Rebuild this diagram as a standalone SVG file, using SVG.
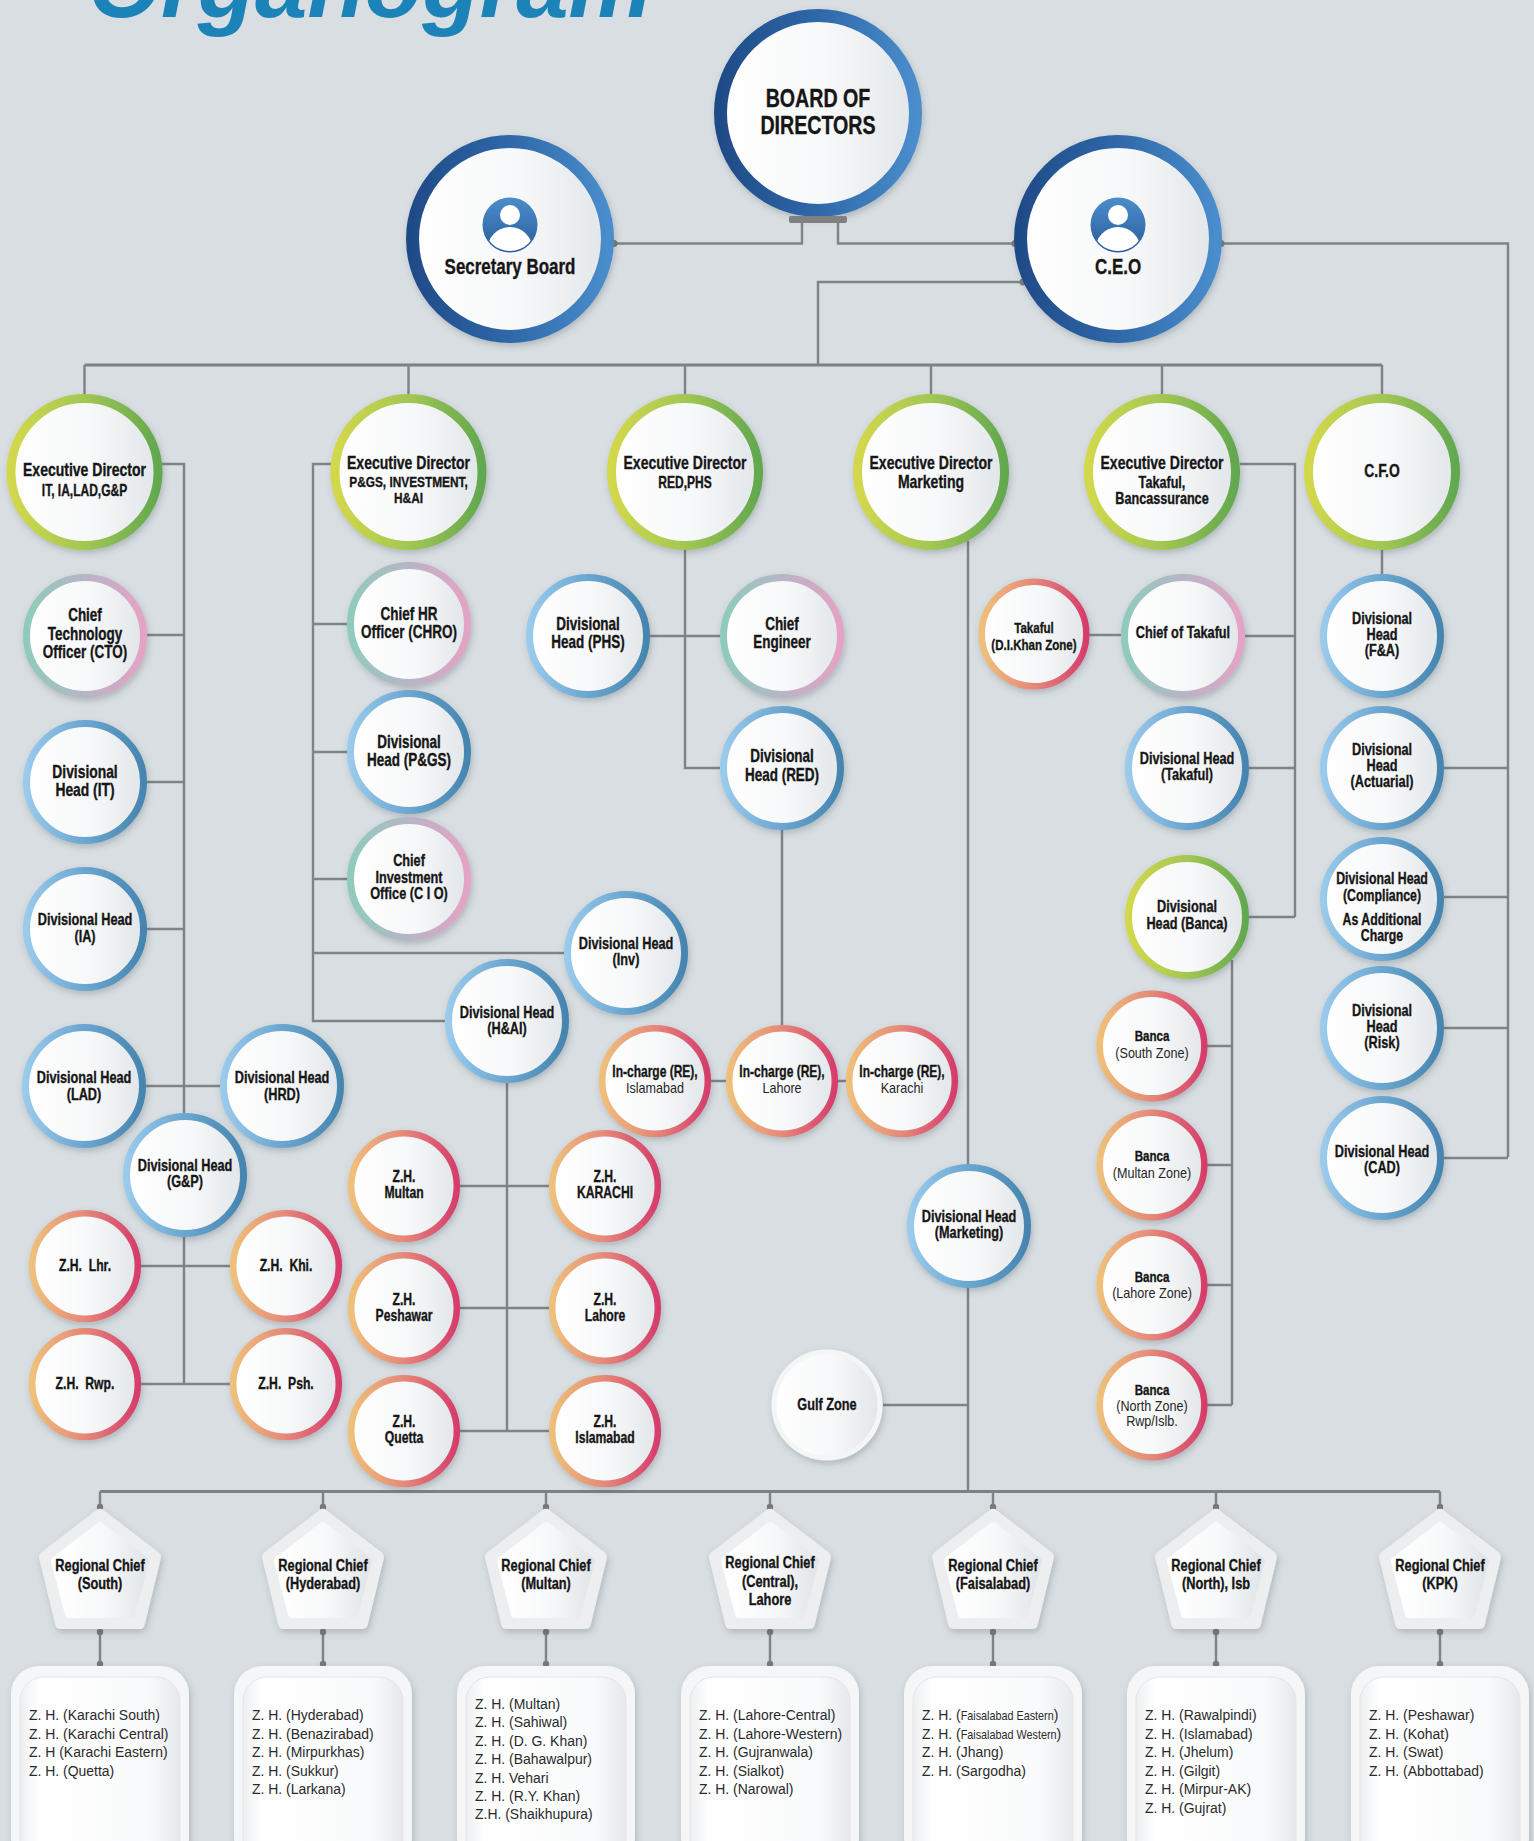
<svg xmlns="http://www.w3.org/2000/svg" xmlns:xlink="http://www.w3.org/1999/xlink" width="1534" height="1841" viewBox="0 0 1534 1841">
<defs>
<style>
.ln{fill:none;stroke:#808285;stroke-width:2.4}
.bus{fill:none;stroke:#7e8083;stroke-width:3}
.dot{fill:#78797b}
.c{fill:url(#gFill);filter:url(#sh)}
.rn{stroke:url(#gNavy);stroke-width:13}
.rg{stroke:url(#gGreen);stroke-width:9}
.rg2{stroke:url(#gGreen);stroke-width:7}
.rb{stroke:url(#gBlue);stroke-width:7}
.rt{stroke:url(#gTeal);stroke-width:7}
.ro{stroke:url(#gOrange);stroke-width:6.5}
.rw{stroke:#f4f5f6;stroke-width:5}
text{font-family:"Liberation Sans",Arial,Helvetica,sans-serif;fill:#161616}
.b{font-weight:700;text-anchor:middle;transform:scaleX(0.77);stroke:#161616;stroke-width:0.35}
.r{font-weight:400;text-anchor:middle;transform:scaleX(0.9);fill:#262626}
.bx{font-weight:400;font-size:15.5px;transform:scaleX(0.9);fill:#2a2a2a}
.sm{font-size:12px}
.title{font-weight:700;font-style:italic;font-size:94px;fill:#1b83b8}
.po{fill:#eceef0;stroke:#eceef0;stroke-width:12;stroke-linejoin:round;filter:url(#sh)}
.pi{fill:url(#gFill);stroke:url(#gFill);stroke-width:8;stroke-linejoin:round}
.bo{fill:#f5f6f7;filter:url(#sh)}
.bi{fill:url(#gBox);stroke:#e3e6e9;stroke-width:1}
</style>
<linearGradient id="gFill" x1="0" y1="0" x2="1" y2="0"><stop offset="0" stop-color="#ffffff"/><stop offset="0.55" stop-color="#f7f8f9"/><stop offset="1" stop-color="#e2e6e9"/></linearGradient>
<linearGradient id="gBox" x1="0" y1="0" x2="1" y2="0"><stop offset="0" stop-color="#eceff1"/><stop offset="0.12" stop-color="#ffffff"/><stop offset="0.8" stop-color="#f9fafb"/><stop offset="1" stop-color="#e6e9ec"/></linearGradient>
<linearGradient id="gNavy" x1="0" y1="0" x2="1" y2="0"><stop offset="0" stop-color="#1f4b87"/><stop offset="0.5" stop-color="#2f68a9"/><stop offset="1" stop-color="#4a8dcc"/></linearGradient>
<linearGradient id="gGreen" x1="0" y1="0" x2="1" y2="0"><stop offset="0" stop-color="#d3d84c"/><stop offset="0.5" stop-color="#a3c753"/><stop offset="1" stop-color="#62a84f"/></linearGradient>
<linearGradient id="gBlue" x1="0" y1="0" x2="1" y2="0"><stop offset="0" stop-color="#9acaec"/><stop offset="0.5" stop-color="#6aa6d0"/><stop offset="1" stop-color="#4585af"/></linearGradient>
<linearGradient id="gTeal" x1="0" y1="0" x2="1" y2="0"><stop offset="0" stop-color="#8fcbbc"/><stop offset="0.5" stop-color="#b7b5c6"/><stop offset="1" stop-color="#e4a3c4"/></linearGradient>
<linearGradient id="gOrange" x1="0" y1="0" x2="1" y2="0"><stop offset="0" stop-color="#efc07a"/><stop offset="0.5" stop-color="#e5887a"/><stop offset="1" stop-color="#d63d6c"/></linearGradient>
<linearGradient id="gIcon" x1="0" y1="0" x2="0" y2="1"><stop offset="0" stop-color="#4b8dcc"/><stop offset="1" stop-color="#2a5c9b"/></linearGradient>
<filter id="sh" x="-20%" y="-20%" width="140%" height="150%"><feDropShadow dx="1.5" dy="3" stdDeviation="3" flood-color="#46525e" flood-opacity="0.28"/></filter>
<clipPath id="pc"><circle r="26"/></clipPath>
<g id="person"><circle r="27.5" fill="url(#gIcon)"/><circle cy="-10" r="10" fill="#ffffff"/><ellipse cy="26" rx="23" ry="24" fill="#ffffff" clip-path="url(#pc)"/></g>
</defs>

<rect width="1534" height="1841" fill="#d8dee1"/>
<text class="title" x="88" y="17">Organogram</text>

<g id="connectors">
<path class="ln" d="M614 243.5H802V222M838 222V243.5H1015M1221 243.5H1508V1157M1023 282H818V365"/>
<path class="bus" d="M84.5 365H1382"/>
<path class="ln" d="M84.5 365V394M408.5 365V394M685 365V394M931 365V394M1162 365V394M1382 365V394"/>
<path class="ln" d="M162 464H184V1113M147 635H184M147 782H184M147 929H184M146 1086H220M184 1237V1384M141 1266H230M141 1384H230"/>
<path class="ln" d="M331 464H313V1021H445M313 624H347M313 752H347M313 879H347M313 953H564M507 1083V1431M460 1186H549M460 1308H549M460 1431H549"/>
<path class="ln" d="M685 550V768H720M650 636H720M782 830V1025M711 1081H846"/>
<path class="ln" d="M968 541V1491.5M883 1405H968"/>
<path class="ln" d="M1240 464H1295V917M1245 636H1295M1249 768H1295M1249 917H1295M1089 635H1121M1232 960V1405M1207 1046H1232M1207 1165H1232M1207 1285H1232M1207 1405H1232"/>
<path class="ln" d="M1382 550V574M1444 768H1508M1444 897H1508M1444 1028H1508M1444 1158H1508"/>
<path class="bus" d="M100 1491.5H1440"/>
<path class="ln" d="M100 1491.5V1507M323 1491.5V1507M546 1491.5V1507M770 1491.5V1507M993 1491.5V1507M1216 1491.5V1507M1440 1491.5V1507M100 1632V1664M323 1632V1664M546 1632V1664M770 1632V1664M993 1632V1664M1216 1632V1664M1440 1632V1664"/>
<g class="dot">
<circle cx="614" cy="243.5" r="3.5"/><circle cx="1015" cy="243.5" r="3.5"/><circle cx="1221" cy="243.5" r="3.5"/><circle cx="1023" cy="282" r="3.5"/>
<circle cx="100" cy="1507" r="3.2"/><circle cx="323" cy="1507" r="3.2"/><circle cx="546" cy="1507" r="3.2"/><circle cx="770" cy="1507" r="3.2"/><circle cx="993" cy="1507" r="3.2"/><circle cx="1216" cy="1507" r="3.2"/><circle cx="1440" cy="1507" r="3.2"/>
<circle cx="100" cy="1632" r="3.2"/><circle cx="323" cy="1632" r="3.2"/><circle cx="546" cy="1632" r="3.2"/><circle cx="770" cy="1632" r="3.2"/><circle cx="993" cy="1632" r="3.2"/><circle cx="1216" cy="1632" r="3.2"/><circle cx="1440" cy="1632" r="3.2"/>
<circle cx="100" cy="1664" r="3.2"/><circle cx="323" cy="1664" r="3.2"/><circle cx="546" cy="1664" r="3.2"/><circle cx="770" cy="1664" r="3.2"/><circle cx="993" cy="1664" r="3.2"/><circle cx="1216" cy="1664" r="3.2"/><circle cx="1440" cy="1664" r="3.2"/>
</g>
</g>

<g id="board" transform="translate(818 0)">
<circle class="c rn" cy="113" r="97.5"/>
<rect x="-29" y="216" width="58" height="7" rx="2" fill="#7f8082"/>
<text class="b" y="107" font-size="25.5">BOARD OF</text>
<text class="b" y="134" font-size="25.5">DIRECTORS</text>
</g>
<g id="secretary" transform="translate(510 0)">
<circle class="c rn" cy="239" r="97.5"/>
<use href="#person" y="225"/>
<text class="b" y="274" font-size="22">Secretary Board</text>
</g>
<g id="ceo" transform="translate(1118 0)">
<circle class="c rn" cy="239" r="97.5"/>
<use href="#person" y="225"/>
<text class="b" y="274" font-size="22">C.E.O</text>
</g>

<g id="ed-it" transform="translate(84.5 0)"><circle class="c rg" cy="472" r="73.5"/>
<text class="b" y="476" font-size="18.2">Executive Director</text><text class="b" y="496" font-size="15.6">IT, IA,LAD,G&amp;P</text></g>
<g id="ed-pgs" transform="translate(408.5 0)"><circle class="c rg" cy="472" r="73.5"/>
<text class="b" y="469" font-size="18.2">Executive Director</text><text class="b" y="487" font-size="15.4">P&amp;GS, INVESTMENT,</text><text class="b" y="503" font-size="15.4">H&amp;AI</text></g>
<g id="ed-red" transform="translate(685 0)"><circle class="c rg" cy="472" r="73.5"/>
<text class="b" y="469" font-size="18.2">Executive Director</text><text class="b" y="488" font-size="15.6">RED,PHS</text></g>
<g id="ed-mkt" transform="translate(931 0)"><circle class="c rg" cy="472" r="73.5"/>
<text class="b" y="469" font-size="18.2">Executive Director</text><text class="b" y="488" font-size="18.2">Marketing</text></g>
<g id="ed-takaful" transform="translate(1162 0)"><circle class="c rg" cy="472" r="73.5"/>
<text class="b" y="469" font-size="18.2">Executive Director</text><text class="b" y="488" font-size="16.4">Takaful,</text><text class="b" y="504" font-size="16.4">Bancassurance</text></g>
<g id="cfo" transform="translate(1382 0)"><circle class="c rg" cy="472" r="73.5"/>
<text class="b" y="477" font-size="18">C.F.O</text></g>

<g id="cto" transform="translate(85 0)"><circle class="c rt" cy="636" r="58.5"/>
<text class="b" y="621" font-size="17.5">Chief</text><text class="b" y="640" font-size="17.5">Technology</text><text class="b" y="658" font-size="17.5">Officer (CTO)</text></g>
<g id="dh-it" transform="translate(85 0)"><circle class="c rb" cy="782" r="58.5"/>
<text class="b" y="778" font-size="18">Divisional</text><text class="b" y="796" font-size="18">Head (IT)</text></g>
<g id="dh-ia" transform="translate(85 0)"><circle class="c rb" cy="929" r="58.5"/>
<text class="b" y="925" font-size="16.5">Divisional Head</text><text class="b" y="942" font-size="16.5">(IA)</text></g>
<g id="dh-lad" transform="translate(84 0)"><circle class="c rb" cy="1086" r="58.5"/>
<text class="b" y="1083" font-size="16.5">Divisional Head</text><text class="b" y="1100" font-size="16.5">(LAD)</text></g>
<g id="dh-hrd" transform="translate(282 0)"><circle class="c rb" cy="1086" r="58.5"/>
<text class="b" y="1083" font-size="16.5">Divisional Head</text><text class="b" y="1100" font-size="16.5">(HRD)</text></g>
<g id="dh-gp" transform="translate(185 0)"><circle class="c rb" cy="1175" r="58.5"/>
<text class="b" y="1171" font-size="16.5">Divisional Head</text><text class="b" y="1187" font-size="16.5">(G&amp;P)</text></g>
<g id="zh-lhr" transform="translate(85 0)"><circle class="c ro" cy="1266" r="52.8"/>
<text class="b" y="1271" font-size="15.8">Z.H.&#160; Lhr.</text></g>
<g id="zh-khi" transform="translate(286 0)"><circle class="c ro" cy="1266" r="52.8"/>
<text class="b" y="1271" font-size="15.8">Z.H.&#160; Khi.</text></g>
<g id="zh-rwp" transform="translate(85 0)"><circle class="c ro" cy="1384" r="52.8"/>
<text class="b" y="1389" font-size="15.8">Z.H.&#160; Rwp.</text></g>
<g id="zh-psh" transform="translate(286 0)"><circle class="c ro" cy="1384" r="52.8"/>
<text class="b" y="1389" font-size="15.8">Z.H.&#160; Psh.</text></g>

<g id="chro" transform="translate(409 0)"><circle class="c rt" cy="624" r="58.5"/>
<text class="b" y="620" font-size="17.5">Chief HR</text><text class="b" y="638" font-size="17.5">Officer (CHRO)</text></g>
<g id="dh-pgs" transform="translate(409 0)"><circle class="c rb" cy="752" r="58.5"/>
<text class="b" y="748" font-size="17.5">Divisional</text><text class="b" y="766" font-size="17.5">Head (P&amp;GS)</text></g>
<g id="cio" transform="translate(409 0)"><circle class="c rt" cy="879" r="58.5"/>
<text class="b" y="866" font-size="16.5">Chief</text><text class="b" y="883" font-size="16.5">Investment</text><text class="b" y="899" font-size="16.5">Office (C I O)</text></g>
<g id="dh-inv" transform="translate(626 0)"><circle class="c rb" cy="953" r="58.5"/>
<text class="b" y="949" font-size="16.5">Divisional Head</text><text class="b" y="965" font-size="16.5">(Inv)</text></g>
<g id="dh-hai" transform="translate(507 0)"><circle class="c rb" cy="1021" r="58.5"/>
<text class="b" y="1018" font-size="16.5">Divisional Head</text><text class="b" y="1034" font-size="16.5">(H&amp;AI)</text></g>
<g id="zh-multan" transform="translate(404 0)"><circle class="c ro" cy="1186" r="52.8"/>
<text class="b" y="1182" font-size="15.8">Z.H.</text><text class="b" y="1198" font-size="15.8">Multan</text></g>
<g id="zh-karachi" transform="translate(605 0)"><circle class="c ro" cy="1186" r="52.8"/>
<text class="b" y="1182" font-size="15.8">Z.H.</text><text class="b" y="1198" font-size="15.8">KARACHI</text></g>
<g id="zh-peshawar" transform="translate(404 0)"><circle class="c ro" cy="1308" r="52.8"/>
<text class="b" y="1305" font-size="15.8">Z.H.</text><text class="b" y="1321" font-size="15.8">Peshawar</text></g>
<g id="zh-lahore" transform="translate(605 0)"><circle class="c ro" cy="1308" r="52.8"/>
<text class="b" y="1305" font-size="15.8">Z.H.</text><text class="b" y="1321" font-size="15.8">Lahore</text></g>
<g id="zh-quetta" transform="translate(404 0)"><circle class="c ro" cy="1431" r="52.8"/>
<text class="b" y="1427" font-size="15.8">Z.H.</text><text class="b" y="1443" font-size="15.8">Quetta</text></g>
<g id="zh-islamabad" transform="translate(605 0)"><circle class="c ro" cy="1431" r="52.8"/>
<text class="b" y="1427" font-size="15.8">Z.H.</text><text class="b" y="1443" font-size="15.8">Islamabad</text></g>

<g id="dh-phs" transform="translate(588 0)"><circle class="c rb" cy="636" r="58.5"/>
<text class="b" y="630" font-size="17.5">Divisional</text><text class="b" y="648" font-size="17.5">Head (PHS)</text></g>
<g id="chief-eng" transform="translate(782 0)"><circle class="c rt" cy="636" r="58.5"/>
<text class="b" y="630" font-size="17.5">Chief</text><text class="b" y="648" font-size="17.5">Engineer</text></g>
<g id="dh-red" transform="translate(782 0)"><circle class="c rb" cy="768" r="58.5"/>
<text class="b" y="762" font-size="17.5">Divisional</text><text class="b" y="781" font-size="17.5">Head (RED)</text></g>
<g id="ic-isb" transform="translate(655 0)"><circle class="c ro" cy="1081" r="52.8"/>
<text class="b" y="1077" font-size="15.6">In-charge (RE),</text><text class="r" y="1093" font-size="14">Islamabad</text></g>
<g id="ic-lhr" transform="translate(782 0)"><circle class="c ro" cy="1081" r="52.8"/>
<text class="b" y="1077" font-size="15.6">In-charge (RE),</text><text class="r" y="1093" font-size="14">Lahore</text></g>
<g id="ic-khi" transform="translate(902 0)"><circle class="c ro" cy="1081" r="52.8"/>
<text class="b" y="1077" font-size="15.6">In-charge (RE),</text><text class="r" y="1093" font-size="14">Karachi</text></g>

<g id="dh-mkt" transform="translate(969 0)"><circle class="c rb" cy="1226" r="58.5"/>
<text class="b" y="1222" font-size="16.5">Divisional Head</text><text class="b" y="1238" font-size="16.5">(Marketing)</text></g>
<g id="gulf" transform="translate(827 0)"><circle class="c rw" cy="1405" r="53"/>
<text class="b" y="1410" font-size="16.5">Gulf Zone</text></g>

<g id="takaful-dik" transform="translate(1034 0)"><circle class="c ro" cy="634" r="52.3"/>
<text class="b" y="633" font-size="15">Takaful</text><text class="b" y="650" font-size="15">(D.I.Khan Zone)</text></g>
<g id="chief-takaful" transform="translate(1183 0)"><circle class="c rt" cy="636" r="58.5"/>
<text class="b" y="638" font-size="16.5">Chief of Takaful</text></g>
<g id="dh-takaful" transform="translate(1187 0)"><circle class="c rb" cy="768" r="58.5"/>
<text class="b" y="764" font-size="16.5">Divisional Head</text><text class="b" y="780" font-size="16.5">(Takaful)</text></g>
<g id="dh-banca" transform="translate(1187 0)"><circle class="c rg2" cy="917" r="58.5"/>
<text class="b" y="912.5" font-size="16.5">Divisional</text><text class="b" y="929" font-size="16.5">Head (Banca)</text></g>
<g id="banca-south" transform="translate(1152 0)"><circle class="c ro" cy="1046" r="52.3"/>
<text class="b" y="1041.5" font-size="15">Banca</text><text class="r" y="1058" font-size="14">(South Zone)</text></g>
<g id="banca-multan" transform="translate(1152 0)"><circle class="c ro" cy="1165" r="52.3"/>
<text class="b" y="1161" font-size="15">Banca</text><text class="r" y="1178" font-size="14">(Multan Zone)</text></g>
<g id="banca-lahore" transform="translate(1152 0)"><circle class="c ro" cy="1285" r="52.3"/>
<text class="b" y="1282" font-size="15">Banca</text><text class="r" y="1298" font-size="14">(Lahore Zone)</text></g>
<g id="banca-north" transform="translate(1152 0)"><circle class="c ro" cy="1405" r="52.3"/>
<text class="b" y="1395" font-size="15">Banca</text><text class="r" y="1411" font-size="14">(North Zone)</text><text class="r" y="1426.5" font-size="14">Rwp/Islb.</text></g>

<g id="dh-fa" transform="translate(1382 0)"><circle class="c rb" cy="636" r="58.5"/>
<text class="b" y="624" font-size="16.5">Divisional</text><text class="b" y="640" font-size="16.5">Head</text><text class="b" y="656" font-size="16.5">(F&amp;A)</text></g>
<g id="dh-actuarial" transform="translate(1382 0)"><circle class="c rb" cy="768" r="58.5"/>
<text class="b" y="755" font-size="16.5">Divisional</text><text class="b" y="771" font-size="16.5">Head</text><text class="b" y="787" font-size="16.5">(Actuarial)</text></g>
<g id="dh-compliance" transform="translate(1382 0)"><circle class="c rb" cy="899" r="58.5"/>
<text class="b" y="884" font-size="16">Divisional Head</text><text class="b" y="901" font-size="16">(Compliance)</text><text class="b" y="925" font-size="16">As Additional</text><text class="b" y="941" font-size="16">Charge</text></g>
<g id="dh-risk" transform="translate(1382 0)"><circle class="c rb" cy="1028" r="58.5"/>
<text class="b" y="1016" font-size="16.5">Divisional</text><text class="b" y="1032" font-size="16.5">Head</text><text class="b" y="1048" font-size="16.5">(Risk)</text></g>
<g id="dh-cad" transform="translate(1382 0)"><circle class="c rb" cy="1158" r="58.5"/>
<text class="b" y="1157.5" font-size="16.5">Divisional Head</text><text class="b" y="1173" font-size="16.5">(CAD)</text></g>

<g id="rc-south" transform="translate(100 0)"><polygon class="po" points="0,1515 55,1557 39,1623 -39,1623 -55,1557"/><polygon class="pi" points="0,1526 45,1561 31,1614 -31,1614 -45,1561"/>
<text class="b" y="1571" font-size="16.6">Regional Chief</text><text class="b" y="1589" font-size="16.6">(South)</text></g>
<g id="rc-hyderabad" transform="translate(323 0)"><polygon class="po" points="0,1515 55,1557 39,1623 -39,1623 -55,1557"/><polygon class="pi" points="0,1526 45,1561 31,1614 -31,1614 -45,1561"/>
<text class="b" y="1571" font-size="16.6">Regional Chief</text><text class="b" y="1589" font-size="16.6">(Hyderabad)</text></g>
<g id="rc-multan" transform="translate(546 0)"><polygon class="po" points="0,1515 55,1557 39,1623 -39,1623 -55,1557"/><polygon class="pi" points="0,1526 45,1561 31,1614 -31,1614 -45,1561"/>
<text class="b" y="1571" font-size="16.6">Regional Chief</text><text class="b" y="1589" font-size="16.6">(Multan)</text></g>
<g id="rc-central" transform="translate(770 0)"><polygon class="po" points="0,1515 55,1557 39,1623 -39,1623 -55,1557"/><polygon class="pi" points="0,1526 45,1561 31,1614 -31,1614 -45,1561"/>
<text class="b" y="1568" font-size="16.6">Regional Chief</text><text class="b" y="1587" font-size="16.6">(Central),</text><text class="b" y="1605" font-size="16.6">Lahore</text></g>
<g id="rc-faisalabad" transform="translate(993 0)"><polygon class="po" points="0,1515 55,1557 39,1623 -39,1623 -55,1557"/><polygon class="pi" points="0,1526 45,1561 31,1614 -31,1614 -45,1561"/>
<text class="b" y="1571" font-size="16.6">Regional Chief</text><text class="b" y="1589" font-size="16.6">(Faisalabad)</text></g>
<g id="rc-north" transform="translate(1216 0)"><polygon class="po" points="0,1515 55,1557 39,1623 -39,1623 -55,1557"/><polygon class="pi" points="0,1526 45,1561 31,1614 -31,1614 -45,1561"/>
<text class="b" y="1571" font-size="16.6">Regional Chief</text><text class="b" y="1589" font-size="16.6">(North), Isb</text></g>
<g id="rc-kpk" transform="translate(1440 0)"><polygon class="po" points="0,1515 55,1557 39,1623 -39,1623 -55,1557"/><polygon class="pi" points="0,1526 45,1561 31,1614 -31,1614 -45,1561"/>
<text class="b" y="1571" font-size="16.6">Regional Chief</text><text class="b" y="1589" font-size="16.6">(KPK)</text></g>

<g id="box-south"><rect class="bo" x="11" y="1666" width="178" height="200" rx="28"/><rect class="bi" x="20" y="1677" width="160" height="190" rx="24"/>
<g transform="translate(29 0)"><text class="bx" y="1720"><tspan x="0">Z. H. (Karachi South)</tspan><tspan x="0" dy="18.6">Z. H. (Karachi Central)</tspan><tspan x="0" dy="18.6">Z. H (Karachi Eastern)</tspan><tspan x="0" dy="18.6">Z. H. (Quetta)</tspan></text></g></g>
<g id="box-hyderabad"><rect class="bo" x="234" y="1666" width="178" height="200" rx="28"/><rect class="bi" x="243" y="1677" width="160" height="190" rx="24"/>
<g transform="translate(252 0)"><text class="bx" y="1720"><tspan x="0">Z. H. (Hyderabad)</tspan><tspan x="0" dy="18.6">Z. H. (Benazirabad)</tspan><tspan x="0" dy="18.6">Z. H. (Mirpurkhas)</tspan><tspan x="0" dy="18.6">Z. H. (Sukkur)</tspan><tspan x="0" dy="18.6">Z. H. (Larkana)</tspan></text></g></g>
<g id="box-multan"><rect class="bo" x="457" y="1666" width="178" height="200" rx="28"/><rect class="bi" x="466" y="1677" width="160" height="190" rx="24"/>
<g transform="translate(475 0)"><text class="bx" y="1709"><tspan x="0">Z. H. (Multan)</tspan><tspan x="0" dy="18.4">Z. H. (Sahiwal)</tspan><tspan x="0" dy="18.4">Z. H. (D. G. Khan)</tspan><tspan x="0" dy="18.4">Z. H. (Bahawalpur)</tspan><tspan x="0" dy="18.4">Z. H. Vehari</tspan><tspan x="0" dy="18.4">Z. H. (R.Y. Khan)</tspan><tspan x="0" dy="18.4">Z.H. (Shaikhupura)</tspan></text></g></g>
<g id="box-central"><rect class="bo" x="681" y="1666" width="178" height="200" rx="28"/><rect class="bi" x="690" y="1677" width="160" height="190" rx="24"/>
<g transform="translate(699 0)"><text class="bx" y="1720"><tspan x="0">Z. H. (Lahore-Central)</tspan><tspan x="0" dy="18.6">Z. H. (Lahore-Western)</tspan><tspan x="0" dy="18.6">Z. H. (Gujranwala)</tspan><tspan x="0" dy="18.6">Z. H. (Sialkot)</tspan><tspan x="0" dy="18.6">Z. H. (Narowal)</tspan></text></g></g>
<g id="box-faisalabad"><rect class="bo" x="904" y="1666" width="178" height="200" rx="28"/><rect class="bi" x="913" y="1677" width="160" height="190" rx="24"/>
<g transform="translate(922 0)"><text class="bx" y="1720"><tspan x="0">Z. H. (<tspan class="sm">Faisalabad Eastern</tspan>)</tspan><tspan x="0" dy="18.6">Z. H. (<tspan class="sm">Faisalabad Western</tspan>)</tspan><tspan x="0" dy="18.6">Z. H. (Jhang)</tspan><tspan x="0" dy="18.6">Z. H. (Sargodha)</tspan></text></g></g>
<g id="box-north"><rect class="bo" x="1127" y="1666" width="178" height="200" rx="28"/><rect class="bi" x="1136" y="1677" width="160" height="190" rx="24"/>
<g transform="translate(1145 0)"><text class="bx" y="1720"><tspan x="0">Z. H. (Rawalpindi)</tspan><tspan x="0" dy="18.6">Z. H. (Islamabad)</tspan><tspan x="0" dy="18.6">Z. H. (Jhelum)</tspan><tspan x="0" dy="18.6">Z. H. (Gilgit)</tspan><tspan x="0" dy="18.6">Z. H. (Mirpur-AK)</tspan><tspan x="0" dy="18.6">Z. H. (Gujrat)</tspan></text></g></g>
<g id="box-kpk"><rect class="bo" x="1351" y="1666" width="178" height="200" rx="28"/><rect class="bi" x="1360" y="1677" width="160" height="190" rx="24"/>
<g transform="translate(1369 0)"><text class="bx" y="1720"><tspan x="0">Z. H. (Peshawar)</tspan><tspan x="0" dy="18.6">Z. H. (Kohat)</tspan><tspan x="0" dy="18.6">Z. H. (Swat)</tspan><tspan x="0" dy="18.6">Z. H. (Abbottabad)</tspan></text></g></g>
</svg>
